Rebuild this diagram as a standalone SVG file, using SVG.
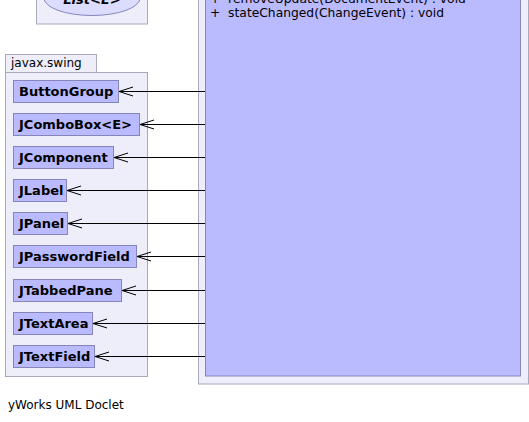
<svg xmlns="http://www.w3.org/2000/svg" width="529" height="422" viewBox="0 0 529 422">
<style>
.pkg{fill:#eeeefa;stroke:#a9a9bd;stroke-width:1}
.cls{fill:#babaff;stroke:#8585bb;stroke-width:1}
.lbl{font-family:"DejaVu Sans",sans-serif;font-size:13px;font-weight:bold;fill:#000}
.txt{font-family:"DejaVu Sans",sans-serif;font-size:12px;fill:#000}
.mem{font-family:"DejaVu Sans",sans-serif;font-size:12.3px;fill:#000}
.edge{fill:none;stroke:#000;stroke-width:1}
</style>
<defs>
<marker id="open" markerWidth="16" markerHeight="12" refX="14" refY="6" orient="auto" markerUnits="userSpaceOnUse">
<path d="M0,1.5 L14,6 L0,10.5" fill="none" stroke="#000" stroke-width="1"/>
</marker>
</defs>
<rect width="529" height="422" fill="#fff"/>
<g id="pkg-java-util">
<rect class="pkg" x="36.5" y="-20" width="111" height="44"/>
</g>
<g id="List">
<ellipse cx="92" cy="-2" rx="48" ry="17.5" fill="#dcdcff" stroke="#8585bb"/>
<text class="lbl" x="92" y="4" text-anchor="middle" font-style="italic">List&lt;E&gt;</text>
</g>
<g id="pkg-javax-swing">
<rect class="pkg" x="5.5" y="54.5" width="91" height="18"/>
<rect class="pkg" x="5.5" y="72.5" width="142" height="304"/>
<text class="txt" x="11" y="67">javax.swing</text>
</g>
<g id="outer">
<rect class="pkg" x="198.5" y="-20" width="330" height="404"/>
<rect class="cls" x="205.5" y="-20" width="315" height="396"/>
<text class="mem" x="210" y="3" xml:space="preserve">+  removeUpdate(DocumentEvent) : void</text>
<text class="mem" x="210" y="17" xml:space="preserve">+  stateChanged(ChangeEvent) : void</text>
</g>
<g id="ButtonGroup"><rect class="cls" x="13.5" y="80.5" width="105" height="22"/><text class="lbl" x="19" y="96">ButtonGroup</text></g>
<g id="JComboBox"><rect class="cls" x="13.5" y="113.5" width="126" height="22"/><text class="lbl" x="19" y="129">JComboBox&lt;E&gt;</text></g>
<g id="JComponent"><rect class="cls" x="13.5" y="146.5" width="100" height="22"/><text class="lbl" x="19" y="162">JComponent</text></g>
<g id="JLabel"><rect class="cls" x="13.5" y="179.5" width="53" height="22"/><text class="lbl" x="19" y="195">JLabel</text></g>
<g id="JPanel"><rect class="cls" x="13.5" y="212.5" width="54" height="22"/><text class="lbl" x="19" y="228">JPanel</text></g>
<g id="JPasswordField"><rect class="cls" x="13.5" y="245.5" width="123" height="22"/><text class="lbl" x="19" y="261">JPasswordField</text></g>
<g id="JTabbedPane"><rect class="cls" x="13.5" y="279.5" width="108" height="22"/><text class="lbl" x="19" y="295">JTabbedPane</text></g>
<g id="JTextArea"><rect class="cls" x="13.5" y="312.5" width="79" height="22"/><text class="lbl" x="19" y="328">JTextArea</text></g>
<g id="JTextField"><rect class="cls" x="13.5" y="345.5" width="81" height="22"/><text class="lbl" x="19" y="361">JTextField</text></g>
<g id="edges">
<path class="edge" d="M165,-15 L140,-4" marker-end="url(#open)"/>
<path class="edge" d="M205,91.5 L119,91.5" marker-end="url(#open)"/>
<path class="edge" d="M205,124.5 L140,124.5" marker-end="url(#open)"/>
<path class="edge" d="M205,157.5 L114,157.5" marker-end="url(#open)"/>
<path class="edge" d="M205,190.5 L67,190.5" marker-end="url(#open)"/>
<path class="edge" d="M205,223.5 L68,223.5" marker-end="url(#open)"/>
<path class="edge" d="M205,256.5 L137,256.5" marker-end="url(#open)"/>
<path class="edge" d="M205,290.5 L122,290.5" marker-end="url(#open)"/>
<path class="edge" d="M205,323.5 L93,323.5" marker-end="url(#open)"/>
<path class="edge" d="M205,356.5 L95,356.5" marker-end="url(#open)"/>
</g>
<text class="txt" x="8" y="409">yWorks UML Doclet</text>
</svg>
